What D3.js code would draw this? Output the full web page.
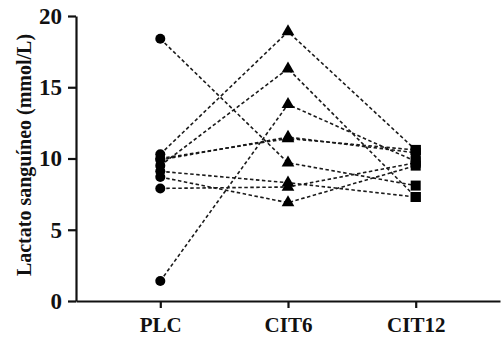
<!DOCTYPE html>
<html>
<head>
<meta charset="utf-8"/>
<script src="https://cdn.jsdelivr.net/npm/d3@7"></script>
<style>
body { margin: 0; background: #fff; }
svg { display: block; }
.axis text { font-family: "Liberation Serif", "Times New Roman", serif; font-weight: bold; font-size: 21px; fill: #111; }
.axis.y text { font-size: 23px; }
.axis path, .axis line { stroke: #111; stroke-width: 2.2px; }
</style>
</head>
<body>
<script>
// conditions on the x axis
var groups = ["PLC", "CIT6", "CIT12"];
var yTicks = [0, 5, 10, 15, 20];

// one array per subject (PLC, CIT6, CIT12)
var s1 = [18.4, 9.7, 8.1];
var s2 = [1.4, 13.8, 9.8];
var s3 = [10.3, 18.9, 10.6];
var s4 = [9.5, 16.3, 7.3];
var s5 = [10.0, 11.4, 10.6];
var s6 = [9.9, 11.5, 10.4];
var s7 = [9.1, 8.3, 7.3];
var s8 = [8.7, 6.9, 9.5];
var s9 = [7.9, 8.0, 9.7];
var subjects = [s1, s2, s3, s4, s5, s6, s7, s8, s9];

var width = 503, height = 343;

var svg = d3.select("body").append("svg")
	.attr("width", width)
	.attr("height", height);

var x = d3.scalePoint()
	.domain(groups)
	.range([76, 500])
	.padding(0.66);

var y = d3.scaleLinear()
	.domain([0, 20])
	.range([301, 16]);

//dashed lines joining each subject
var line = d3.line()
	.x(function(d, i) { return x(groups[i]); })
	.y(function(d) { return y(d); });

svg.append("g").selectAll("path")
	.data(subjects)
	.enter().append("path")
	.attr("d", line)
	.attr("fill", "none")
	.attr("stroke", "#1a1a1a")
	.attr("stroke-width", 1.6)
	.attr("stroke-dasharray", "3.5,2.5");

//markers: circle for PLC, triangle for CIT6, square for CIT12
var marks = svg.append("g");
subjects.forEach(function(s) {
	marks.append("circle")
		.attr("cx", x(groups[0]))
		.attr("cy", y(s[0]))
		.attr("r", 5)
		.attr("fill", "#000");
	marks.append("path")
		.attr("d", d3.symbol().type(d3.symbolTriangle).size(70)())
		.attr("transform", "translate(" + x(groups[1]) + "," + y(s[1]) + ")")
		.attr("fill", "#000");
	marks.append("path")
		.attr("d", d3.symbol().type(d3.symbolSquare).size(100)())
		.attr("transform", "translate(" + x(groups[2]) + "," + y(s[2]) + ")")
		.attr("fill", "#000");
});

//axes
svg.append("g")
	.attr("class", "axis y")
	.attr("transform", "translate(76,0)")
	.call(d3.axisLeft(y).tickValues(yTicks).tickSize(8).tickPadding(6).tickSizeOuter(0));

svg.append("g")
	.attr("class", "axis x")
	.attr("transform", "translate(0,301)")
	.call(d3.axisBottom(x).tickSize(7).tickPadding(9).tickSizeOuter(0));

svg.append("text")
	.attr("transform", "translate(31,155) rotate(-90)")
	.attr("text-anchor", "middle")
	.style("font-family", "'Liberation Serif', 'Times New Roman', serif")
	.style("font-weight", "bold")
	.style("font-size", "20px")
	.attr("fill", "#111")
	.text("Lactato sanguíneo (mmol/L)");
</script>
</body>
</html>
